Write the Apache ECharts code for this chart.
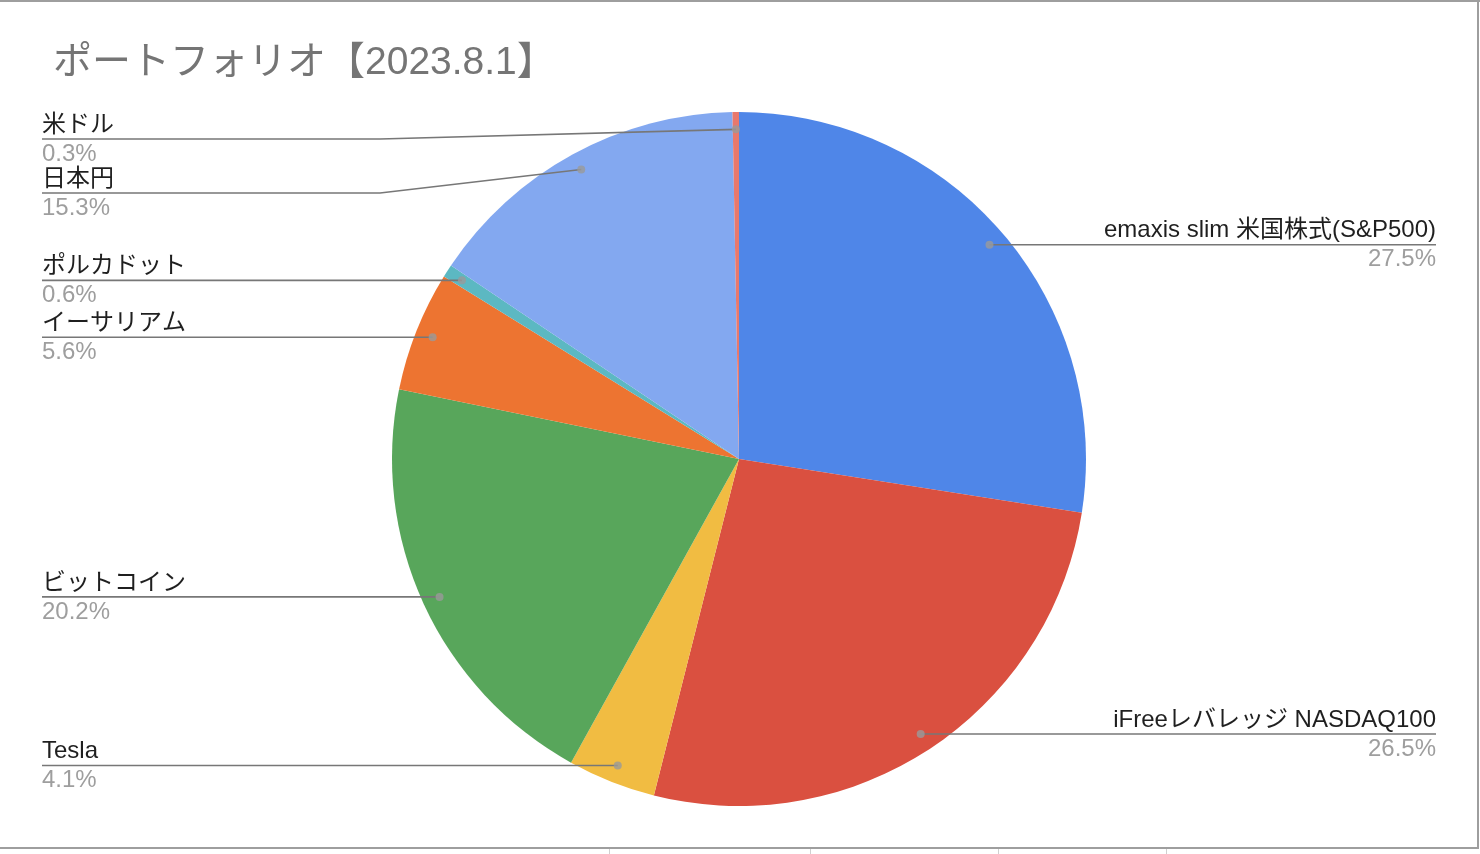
<!DOCTYPE html>
<html><head><meta charset="utf-8">
<script src="https://cdn.jsdelivr.net/npm/echarts@6/dist/echarts.min.js"></script>
<style>html,body{margin:0;padding:0;background:#fff}#c{width:1480px;height:854px}</style>
</head><body><div id="c"></div>
<script>
const titleText = 'ポートフォリオ【2023.8.1】';
const categories = ['emaxis slim 米国株式(S&P500)', 'iFreeレバレッジ NASDAQ100', 'Tesla', 'ビットコイン', 'イーサリアム', 'ポルカドット', '日本円', '米ドル'];
const shares = [27.5, 26.5, 4.1, 20.2, 5.6, 0.6, 15.3, 0.3];
const colors = ['#4f86e8', '#da5040', '#f1bc42', '#58a65b', '#ed7431', '#5cb8c2', '#83a8f0', '#e8786c'];

const FONT = '"Liberation Sans", Arial, "Noto Sans CJK JP", sans-serif';
const CX = 739, CY = 459, R = 347, DOT = 0.95, LABEL_H = 54;

// anchor dots at 0.95 R on each slice's middle angle (derived from data)
const total = shares.reduce((a, b) => a + b, 0);
const mids = [];
const anchors = [];
let acc = 0;
shares.forEach(v => {
  const m = acc + v / 2;
  mids.push([DOT, m]);
  const t = m / total * Math.PI * 2;
  anchors.push({ x: CX + DOT * R * Math.sin(t), y: CY - DOT * R * Math.cos(t), left: Math.sin(t) < 0 });
  acc += v;
});
// resolve vertical label overlap per side, kept within the pie's vertical extent
const labelY = new Array(shares.length);
[true, false].forEach(side => {
  const idx = anchors.map((a, i) => i).filter(i => anchors[i].left === side)
    .sort((a, b) => anchors[a].y - anchors[b].y);
  let prev = -Infinity;
  idx.forEach(i => {
    let y = Math.max(anchors[i].y, CY - R + LABEL_H / 2, prev + LABEL_H);
    labelY[i] = y; prev = y;
  });
});

const chart = echarts.init(document.getElementById('c'), null, { renderer: 'canvas' });
const pieBase = {
  type: 'pie',
  left: 0, right: 2, top: 112, bottom: 48,
  center: ['50%', '50%'],
  radius: R,
  startAngle: 90,
  clockwise: true,
  silent: true,
  data: categories.map((n, i) => ({ name: n, value: shares[i] }))
};
chart.setOption({
  animation: false,
  backgroundColor: '#fff',
  title: {
    text: titleText, left: 48, top: 39,
    textStyle: { fontFamily: FONT, fontSize: 39, fontWeight: 'normal', color: '#757575' }
  },
  polar: { center: [CX, CY], radius: R },
  angleAxis: { type: 'value', min: 0, max: total, startAngle: 90, clockwise: true, show: false },
  radiusAxis: { type: 'value', min: 0, max: 1, show: false },
  graphic: [
    { type: 'rect', shape: { x: 0, y: 0, width: 1480, height: 2 }, style: { fill: '#9e9e9e' }, silent: true },
    { type: 'rect', shape: { x: 1477, y: 0, width: 2, height: 849 }, style: { fill: '#9e9e9e' }, silent: true },
    { type: 'rect', shape: { x: 0, y: 847, width: 1479, height: 2 }, style: { fill: '#9e9e9e' }, silent: true },
    { type: 'rect', shape: { x: 609, y: 849, width: 1, height: 5 }, style: { fill: '#d0d0d0' }, silent: true },
    { type: 'rect', shape: { x: 810, y: 849, width: 1, height: 5 }, style: { fill: '#d0d0d0' }, silent: true },
    { type: 'rect', shape: { x: 998, y: 849, width: 1, height: 5 }, style: { fill: '#d0d0d0' }, silent: true },
    { type: 'rect', shape: { x: 1166, y: 849, width: 1, height: 5 }, style: { fill: '#d0d0d0' }, silent: true }
  ],
  series: [
    Object.assign({}, pieBase, {
      z: 2,
      color: colors,
      itemStyle: { borderWidth: 0 },
      label: { show: false },
      labelLine: { show: false }
    }),
    Object.assign({}, pieBase, {
      z: 4,
      itemStyle: { color: 'rgba(0,0,0,0)', borderWidth: 0 },
      avoidLabelOverlap: false,
      label: {
        show: true,
        position: 'outside',
        alignTo: 'edge',
        edgeDistance: 42,
        distanceToLabelLine: 0,
        formatter: p => '{n|' + p.name + '}\n{p|' + p.value.toFixed(1) + '%}',
        rich: {
          n: { fontFamily: FONT, fontSize: 24, lineHeight: 30, color: '#1f1f1f' },
          p: { fontFamily: FONT, fontSize: 24, lineHeight: 28, color: '#9e9e9e' }
        }
      },
      labelLine: {
        show: true, length: 10, length2: 0,
        lineStyle: { color: '#777', width: 1.6 }
      },
      labelLayout: function (p) {
        const i = p.dataIndex;
        const a = anchors[i];
        const r = p.labelRect;
        const ly = labelY[i];
        const fx = a.left ? r.x : r.x + r.width;
        let line;
        if (Math.abs(ly - a.y) < 1) {
          line = [[a.x, ly], [a.x, ly], [fx, ly]];
        } else {
          const bx = a.left ? CX - R - 12 : CX + R + 12;
          line = [[a.x, a.y], [bx, ly], [fx, ly]];
        }
        return { y: ly, verticalAlign: 'middle', labelLinePoints: line };
      }
    }),
    {
      type: 'scatter',
      coordinateSystem: 'polar',
      symbol: 'circle',
      symbolSize: 8,
      z: 10,
      silent: true,
      itemStyle: { color: '#9a9a9a' },
      data: mids
    }
  ]
});
</script>
</body></html>
